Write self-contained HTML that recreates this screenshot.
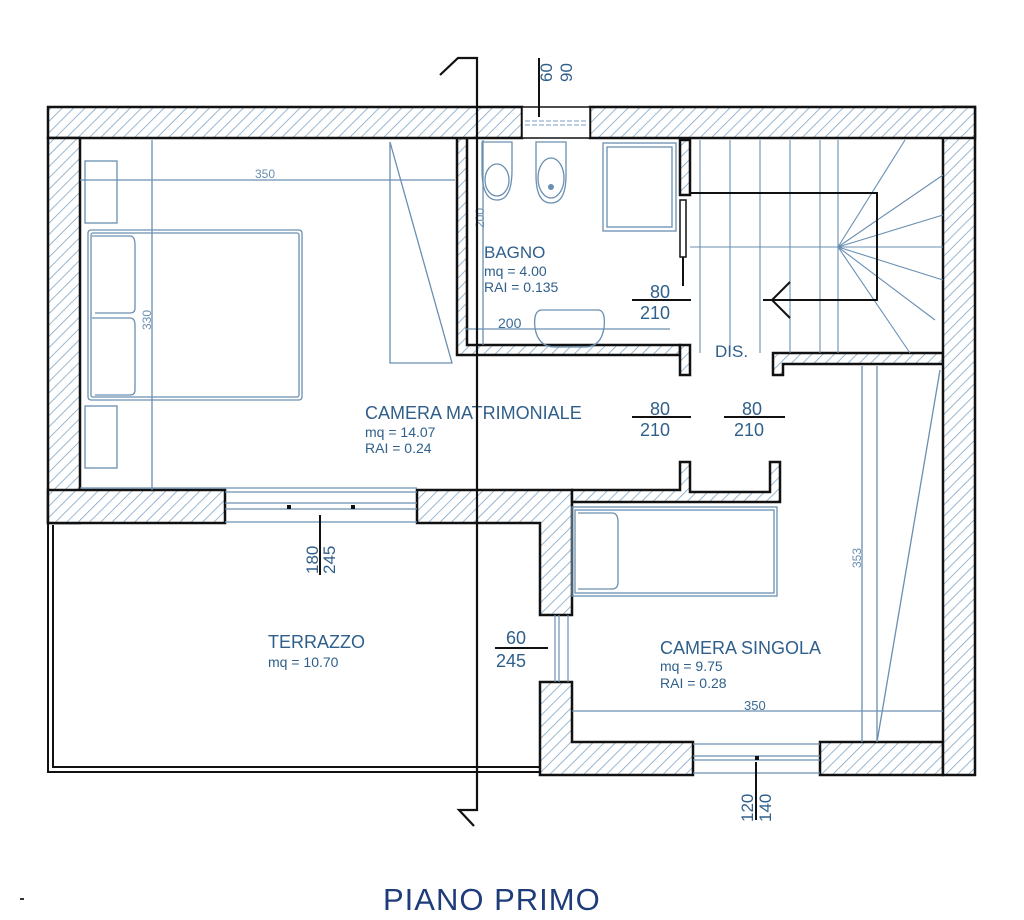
<!DOCTYPE html>
<html><head><meta charset="utf-8"><style>
html,body{margin:0;padding:0;background:#fff;}
svg{display:block}
text{font-family:"Liberation Sans",sans-serif;}
</style></head><body>
<svg width="1024" height="920" viewBox="0 0 1024 920" xmlns="http://www.w3.org/2000/svg">
<defs>
<pattern id="h" patternUnits="userSpaceOnUse" width="8" height="8" patternTransform="rotate(45)">
<rect width="8" height="8" fill="#fff"/><line x1="0" y1="0" x2="0" y2="8" stroke="#7fa6c6" stroke-width="1.6"/>
</pattern>
</defs>
<!-- walls -->
<g fill="url(#h)" stroke="#111" stroke-width="2.5">
<path d="M417 490 H572 V615 H540 V523 H417 Z"/>
<path d="M572 490 H680 V462 H690 V492 H770 V462 H780 V502 H572 Z"/>
<path d="M540 682 H572 V742 H693 V775 H540 Z"/>
<path d="M820 742 H943 V775 H820 Z"/>
<path d="M457 138 H467 V345 H680 V355 H457 Z"/>
<path d="M680 345 H690 V375 H680 Z"/>
<path d="M680 140 H690 V195 H680 Z"/>
<path d="M773 353 H943 V364 H783 V375 H773 Z"/>
<path d="M943 107 H975 V775 H943 Z"/>
<path d="M48 107 H522 V138 H48 Z"/>
<path d="M590 107 H975 V138 H590 Z"/>
<path d="M48 138 H80 V523 H48 Z"/>
<path d="M48 490 H225 V523 H48 Z"/>
</g>
<!-- bathroom window -->
<rect x="522" y="107" width="68" height="31" fill="#fff" stroke="#111" stroke-width="1.5"/>
<line x1="525" y1="121" x2="587" y2="121" stroke="#7a9ec0" stroke-dasharray="5,2"/>
<line x1="525" y1="125" x2="587" y2="125" stroke="#7a9ec0" stroke-dasharray="5,2"/>
<!-- terrazzo -->
<g fill="none" stroke="#111" stroke-width="2">
<path d="M48 523 V772 H540"/>
<path d="M53 525 V767 H540"/>
</g>
<!-- windows -->
<g stroke="#6a8fb0" stroke-width="1.2" fill="none">
<line x1="225" y1="503" x2="417" y2="503"/><line x1="225" y1="509" x2="417" y2="509"/>
<line x1="225" y1="492" x2="417" y2="492"/><line x1="225" y1="522" x2="417" y2="522"/>
<line x1="693" y1="756" x2="820" y2="756"/><line x1="693" y1="760" x2="820" y2="760"/>
<line x1="693" y1="744" x2="820" y2="744"/><line x1="693" y1="773" x2="820" y2="773"/>
<line x1="555" y1="615" x2="555" y2="682"/><line x1="559" y1="615" x2="559" y2="682"/>
<line x1="568" y1="615" x2="568" y2="682"/>
</g>
<rect x="287" y="505" width="4" height="4" fill="#111"/><rect x="351" y="505" width="4" height="4" fill="#111"/>
<rect x="755" y="756" width="4" height="4" fill="#111"/>
<!-- bedroom furniture -->
<g fill="none" stroke="#6a8fb0" stroke-width="1.3">
<rect x="85" y="161" width="32" height="62"/>
<rect x="85" y="406" width="32" height="62"/>
<rect x="88" y="230" width="214" height="170" rx="3"/>
<rect x="91" y="233" width="208" height="164" rx="2"/>
<path d="M92 236 H130 Q135 236 135 245 V308 Q135 313 130 313 H95"/>
<path d="M92 318 H130 Q135 318 135 325 V390 Q135 395 130 395 H95"/>
<line x1="80" y1="180" x2="455" y2="180"/>
<line x1="152" y1="140" x2="152" y2="490"/>
<path d="M390 142 V363 H452 Z"/>
<line x1="80" y1="488" x2="417" y2="488"/>
</g>
<text x="255" y="178" font-size="12" fill="#6a8fb0">350</text>
<text x="0" y="0" font-size="12" fill="#6a8fb0" transform="translate(151,330) rotate(-90)">330</text>
<!-- bathroom fixtures -->
<g fill="none" stroke="#6a8fb0" stroke-width="1.3">
<path d="M482 142 H512 V170 Q512 200 497 200 Q482 200 482 170 Z"/>
<ellipse cx="497" cy="180" rx="12" ry="16"/>
<path d="M536 142 H566 V175 Q566 203 551 203 Q536 203 536 175 Z"/>
<ellipse cx="551" cy="178" rx="13" ry="20"/>
<rect x="603" y="143" width="73" height="88"/><rect x="607" y="147" width="65" height="80"/>
<path d="M542 310 H598 Q606 310 604 328 Q601 347 585 347 H555 Q538 347 535 328 Q533 310 542 310 Z"/>
<line x1="465" y1="329" x2="670" y2="329"/>
<line x1="483" y1="140" x2="483" y2="345"/>
</g>
<circle cx="551" cy="187" r="3" fill="#6a8fb0"/>
<text x="0" y="0" font-size="12" fill="#6a8fb0" transform="translate(484,228) rotate(-90)">200</text>
<text x="498" y="328" font-size="14" fill="#3a6c95">200</text>
<!-- sliding door -->
<rect x="680" y="200" width="6" height="57" fill="#fff" stroke="#111" stroke-width="1.5"/>
<line x1="683" y1="257" x2="683" y2="286" stroke="#111" stroke-width="2"/>
<!-- stairs -->
<g fill="none" stroke="#6a8fb0" stroke-width="1.1">
<line x1="700" y1="140" x2="700" y2="353"/><line x1="730" y1="140" x2="730" y2="353"/>
<line x1="760" y1="140" x2="760" y2="353"/><line x1="790" y1="140" x2="790" y2="353"/>
<line x1="820" y1="140" x2="820" y2="353"/><line x1="838" y1="140" x2="838" y2="353"/>
<line x1="690" y1="247" x2="943" y2="247"/>
<line x1="838" y1="247" x2="905" y2="140"/><line x1="838" y1="247" x2="943" y2="175"/>
<line x1="838" y1="247" x2="943" y2="215"/><line x1="838" y1="247" x2="943" y2="280"/>
<line x1="838" y1="247" x2="935" y2="320"/><line x1="838" y1="247" x2="910" y2="353"/>
</g>
<g fill="none" stroke="#111" stroke-width="2">
<path d="M690 193 H877 V300 H763"/>
<path d="M790 282 L772 300 L790 318"/>
</g>
<!-- camera singola furniture -->
<g fill="none" stroke="#6a8fb0" stroke-width="1.3">
<rect x="572" y="507" width="205" height="89"/><rect x="575" y="510" width="199" height="83"/>
<path d="M578 513 H612 Q618 513 618 522 V582 Q618 589 612 589 H578"/>
<line x1="572" y1="711" x2="943" y2="711"/>
<line x1="862" y1="366" x2="862" y2="742"/>
<line x1="877" y1="366" x2="877" y2="742"/>
<line x1="877" y1="742" x2="940" y2="370"/>
</g>
<text x="744" y="710" font-size="13" fill="#3a6c95">350</text>
<text x="0" y="0" font-size="12" fill="#6a8fb0" transform="translate(861,568) rotate(-90)">353</text>
<!-- door labels -->
<g font-size="18" fill="#2f5f8a">
<text x="650" y="298">80</text><text x="640" y="319">210</text>
<text x="650" y="415">80</text><text x="640" y="436">210</text>
<text x="742" y="415">80</text><text x="734" y="436">210</text>
<text x="506" y="644">60</text><text x="496" y="667">245</text>
</g>
<g stroke="#111" stroke-width="2">
<line x1="632" y1="300" x2="691" y2="300"/>
<line x1="632" y1="417" x2="691" y2="417"/>
<line x1="724" y1="417" x2="785" y2="417"/>
<line x1="495" y1="648" x2="548" y2="648"/>
<line x1="320" y1="515" x2="320" y2="575"/>
<line x1="756" y1="762" x2="756" y2="820"/>
<line x1="539" y1="58" x2="539" y2="117"/>
</g>
<g font-size="17" fill="#2f5f8a">
<text transform="translate(318,574) rotate(-90)">180</text>
<text transform="translate(335,574) rotate(-90)">245</text>
<text transform="translate(753,822) rotate(-90)">120</text>
<text transform="translate(771,822) rotate(-90)">140</text>
<text transform="translate(552,82) rotate(-90)">60</text>
<text transform="translate(572,82) rotate(-90)">90</text>
</g>
<!-- room labels -->
<text x="484" y="258" font-size="17" fill="#2f5f8a">BAGNO</text>
<text x="484" y="276" font-size="14" fill="#2f5f8a">mq = 4.00</text>
<text x="484" y="292" font-size="14" fill="#2f5f8a">RAI = 0.135</text>
<text x="715" y="357" font-size="17" fill="#2f5f8a">DIS.</text>
<text x="365" y="419" font-size="18" fill="#2f5f8a">CAMERA MATRIMONIALE</text>
<text x="365" y="437" font-size="14" fill="#2f5f8a">mq = 14.07</text>
<text x="365" y="453" font-size="14" fill="#2f5f8a">RAI = 0.24</text>
<text x="268" y="648" font-size="18" fill="#2f5f8a">TERRAZZO</text>
<text x="268" y="667" font-size="14" fill="#2f5f8a">mq = 10.70</text>
<text x="660" y="654" font-size="18" fill="#2f5f8a">CAMERA SINGOLA</text>
<text x="660" y="671" font-size="14" fill="#2f5f8a">mq = 9.75</text>
<text x="660" y="688" font-size="14" fill="#2f5f8a">RAI = 0.28</text>
<!-- section line -->
<g fill="none" stroke="#111" stroke-width="2.2">
<path d="M440 75 L458 58 H477 V810 H459 L474 826"/>
</g>
<text x="383" y="910" font-size="31" fill="#1f3c7a" letter-spacing="1">PIANO PRIMO</text>
<rect x="20" y="898" width="4" height="2" fill="#333"/>
</svg>
</body></html>
